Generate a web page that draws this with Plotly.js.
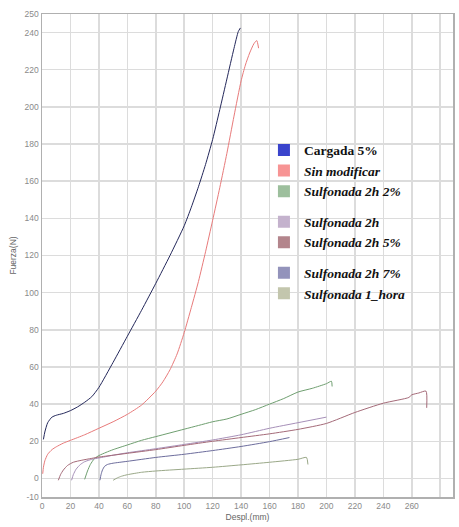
<!DOCTYPE html>
<html><head><meta charset="utf-8">
<script src="https://cdn.plot.ly/plotly-3.0.1.min.js"></script>
<style>html,body{margin:0;padding:0;background:#fff}#chart{width:459px;height:527px}</style>
</head><body><div id="chart"></div>
<script>
const seriesNames = ["Cargada 5%","Sin modificar","Sulfonada 2h 2%","Sulfonada 2h","Sulfonada 2h 5%","Sulfonada 2h 7%","Sulfonada 1_hora"];
const legendLabels = ["<b>Cargada 5%</b>","<b><i>Sin modificar</i></b>","<b><i>Sulfonada 2h 2%</i></b>","<b><i>Sulfonada 2h</i></b>","<b><i>Sulfonada 2h 5%</i></b>","<b><i>Sulfonada 2h 7%</i></b>","<b><i>Sulfonada 1_hora</i></b>"];
const legendGroups = ["g1","g1","g1","g2","g2","g3","g3"];

const cargadaX = [1,2,4,7,10,15,20,25,30,35,40,50,60,70,80,90,100,105,110,115,120,125,130,135,138,139.5];
const cargadaY = [21,25,30,33,34,35,36.5,38.5,41,44,49,62.5,76.5,90.5,105,120,136,146,157,169,182.5,198.5,215,231.5,240.5,242.5];

const sinX = [0.5,1,2,4,7,10,15,20,30,40,50,60,70,80,85,90,95,100,105,110,115,120,125,130,135,140,143,146,149,151,152.3];
const sinY = [2.5,6,9.5,13,15.5,17,19,20.5,23.5,27,30.5,34.5,39.5,47,52,58.5,67,78.5,92,106,122,139,156.5,175,195,214,222.5,229,234,235.7,231.6];

const s2h2X = [30,32,34,37,40,45,50,60,70,80,90,100,110,120,130,140,150,160,170,180,190,200,203.5,204];
const s2h2Y = [-0.5,4,7.5,10.8,12.3,14,15.5,18,20.5,22.5,24.5,26.5,28.5,30.5,32,34.5,37,40,43,46.5,48.5,51,52.3,49.5];

const s2hX = [20.8,22,24,27,30,35,40,50,60,80,100,120,140,160,180,200];
const s2hY = [-1,2,5,7.5,9,10.3,11,12.5,13.8,16,18.3,20.7,23.5,27,30,33];

const s2h5X = [11.5,13,15,18,22,28,35,40,50,60,80,100,120,140,160,180,200,220,240,258,260,265,270,270.5];
const s2h5Y = [-1,2,4.5,7,8.7,9.8,10.8,11.5,12.5,13.5,15.5,17.8,20,22,24,26.4,29.6,35.5,40.5,43.6,45,46,47,38];

const s2h7X = [40.7,41.5,42.5,44,46,50,60,80,100,120,140,160,174];
const s2h7Y = [-1,2,4.5,6.5,7.5,8.2,9.2,11.3,13,15,17.2,19.8,22];

const s1hX = [50,53,56,60,70,80,100,120,140,160,180,186,187];
const s1hY = [-1,0.3,1.2,2,3.3,4,5,6,7.3,8.7,10.3,11.3,7.5];

const xTicks = [0,20,40,60,80,100,120,140,160,180,200,220,240,260,290];
const yTicks = [-10,0,20,40,60,80,100,120,140,160,180,200,220,240,250];

const lineColors = ["#23275a","#e87a7a","#6f9f70","#a68fb8","#a46a78","#6c6c9c","#9aa888"];
const legendColors = ["#3a44cc","#f79494","#9dbf9d","#c4b2cd","#b3858c","#9393bb","#c3c6ad"];

const xs = [cargadaX,sinX,s2h2X,s2hX,s2h5X,s2h7X,s1hX];
const ys = [cargadaY,sinY,s2h2Y,s2hY,s2h5Y,s2h7Y,s1hY];

const traces = [];
for (let i = 0; i < xs.length; i++) {
  traces.push({type:'scatter', mode:'lines', x:xs[i], y:ys[i], name:seriesNames[i],
    line:{color:lineColors[i], width:1, shape:'spline', smoothing:0.6}, showlegend:false, hoverinfo:'skip'});
}
for (let i = 0; i < seriesNames.length; i++) {
  traces.push({type:'bar', x:[null], y:[null], name:legendLabels[i], legendgroup:legendGroups[i],
    marker:{color:legendColors[i]}, showlegend:true});
}

const layout = {
  width:459, height:527,
  margin:{l:42, r:6, t:14, b:30},
  paper_bgcolor:'#ffffff', plot_bgcolor:'#ffffff',
  showlegend:true,
  legend:{x:0.54, y:0.75, xanchor:'left', yanchor:'top', bgcolor:'rgba(0,0,0,0)',
    traceorder:'grouped', tracegroupgap:10, itemwidth:30,
    font:{family:'Liberation Serif, Times New Roman, serif', size:13.5, color:'#111'}},
  xaxis:{type:'linear', range:[0,289], tickvals:xTicks, ticktext:xTicks.map(String),
    showgrid:true, gridcolor:'#dcdcdc', gridwidth:1.5, zeroline:false,
    showline:true, linecolor:'#b0b0b0', linewidth:1.5, mirror:true, ticks:'',
    tickfont:{family:'Liberation Sans, Arial, sans-serif', size:8.5, color:'#8a8a8a'},
    minor:{tickvals:[280], showgrid:true, gridcolor:'#dcdcdc', gridwidth:1.5, ticks:''},
    title:{text:'Despl.(mm)', standoff:4, font:{family:'Liberation Sans, Arial, sans-serif', size:8.5, color:'#666'}}},
  yaxis:{type:'linear', range:[-10,250], tickvals:yTicks, ticktext:yTicks.map(String),
    showgrid:true, gridcolor:'#dcdcdc', gridwidth:1.5, zeroline:false,
    showline:true, linecolor:'#b0b0b0', linewidth:1.5, mirror:true, ticks:'',
    tickfont:{family:'Liberation Sans, Arial, sans-serif', size:8.5, color:'#8a8a8a'},
    title:{text:'Fuerza(N)', standoff:6, font:{family:'Liberation Sans, Arial, sans-serif', size:8.5, color:'#666'}}}
};

Plotly.newPlot('chart', traces, layout, {displayModeBar:false, staticPlot:true});
</script></body></html>
